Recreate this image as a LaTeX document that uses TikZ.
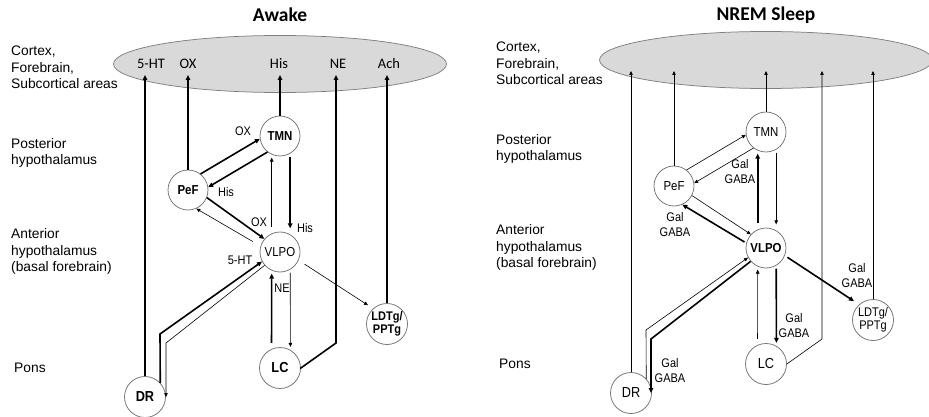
\documentclass[tikz,border=0pt]{standalone}
\usepackage{fontspec}
\setmainfont{Liberation Sans}
\newfontfamily\calibf{Carlito}
\newfontfamily\narrowf[FakeStretch=0.88]{Liberation Sans}
\usetikzlibrary{arrows.meta,shapes.geometric}
\tikzset{
  cnode/.style={circle,draw=black!55,line width=0.75pt,fill=white,minimum size=40pt,inner sep=0pt,text=black},
  nreg/.style={cnode,font=\narrowf\fontsize{13}{14}\selectfont},
  nbold/.style={cnode,font=\narrowf\bfseries\fontsize{13}{14}\selectfont},
  nregL/.style={cnode,minimum size=41pt,font=\narrowf\fontsize{14.5}{16}\selectfont},
  nboldL/.style={cnode,minimum size=41pt,font=\narrowf\bfseries\fontsize{14.5}{16}\selectfont},
  nregS/.style={cnode,minimum size=41pt,align=center,font=\narrowf\fontsize{12.5}{12.5}\selectfont},
  nboldS/.style={cnode,minimum size=41pt,align=center,font=\narrowf\bfseries\fontsize{12.5}{12.5}\selectfont},
  ctx/.style={ellipse,draw=black!50,line width=0.75pt,fill=black!15,minimum width=333pt,minimum height=57pt,inner sep=0pt},
  ctxlbl/.style={font=\calibf\fontsize{14.5}{16}\selectfont,inner sep=0pt},
  ttl/.style={font=\calibf\bfseries\fontsize{19.5}{21}\selectfont,inner sep=0pt},
  side/.style={anchor=west,align=left,inner sep=0pt,font=\fontsize{13.8}{16.5}\selectfont},
  elbl/.style={align=center,inner sep=0pt,font=\narrowf\fontsize{12.5}{15}\selectfont},
  thk/.style={line width=1.6pt,-{Triangle[length=5pt,width=4.5pt]}},
  thn/.style={line width=0.6pt,-{Triangle[length=4pt,width=3.5pt]}},
}
\begin{document}
\begin{tikzpicture}[x=1pt,y=-1pt]
\useasboundingbox (0,0) rectangle (929,417);
% ================= titles
\node[ttl] (Lttl) at (280,15) {Awake};
\node[ttl] (Rttl) at (766,15) {NREM Sleep};
% ================= LEFT PANEL (Awake)
\node[ctx] (Lctx) at (280,64) {};
\node[ctxlbl] (Lc1) at (151,63.5) {5-HT};
\node[ctxlbl] (Lc2) at (188,63.5) {OX};
\node[ctxlbl] (Lc3) at (279,63.5) {His};
\node[ctxlbl] (Lc4) at (338,63.5) {NE};
\node[ctxlbl] (Lc5) at (389,63.5) {Ach};
\node[side] (Ls1) at (11,67.5) {Cortex,\\Forebrain,\\Subcortical areas};
\node[side] (Ls2) at (11,153) {Posterior\\hypothalamus};
\node[side] (Ls3) at (11,251.5) {Anterior\\hypothalamus\\(basal forebrain)};
\node[side] (Ls4) at (14,368) {Pons};
\node[nbold] (LTMN) at (280,136) {TMN};
\node[nbold] (LPeF) at (188,190) {PeF};
\node[nreg] (LVLPO) at (280,252) {VLPO};
\node[nboldL] (LLC) at (280,368) {LC};
\node[nboldL] (LDR) at (145,397) {DR};
\node[nboldS] (LLDT) at (387,324) {LDTg/\\PPTg};
\coordinate (LtHT) at (145,75);
\coordinate (LtOX) at (188,75);
\coordinate (LtHis) at (280,75);
\coordinate (LtNE) at (336,75);
\coordinate (LtAch) at (387,75);
\coordinate (LbNE) at (336,343);
\coordinate (Lb1) at (160,334);
\coordinate (Lb2) at (166,343);
% to cortex
\draw[thk] (LDR.north) -- (LtHT);
\draw[thk] (LPeF.north) -- (LtOX);
\draw[thk] (LTMN.north) -- (LtHis);
\draw[thk,shorten <=-1pt] (LLC.east) -- (LbNE) -- (LtNE);
\draw[thk] (LLDT.north) -- (LtAch);
% PeF - TMN
\draw[thk] (LPeF.52) -- (LTMN.188);
\draw[thk] (LTMN.232) -- (LPeF.8);
% PeF - VLPO
\draw[thk] (LPeF.-22) -- (LVLPO.140);
\draw[thn,shorten <=9pt] (LVLPO.163) -- (LPeF.-66);
% TMN - VLPO
\draw[thn,shorten <=6pt,shorten >=3pt] (LVLPO.114) -- (LTMN.-114);
\draw[thk,shorten <=3pt,shorten >=6pt] (LTMN.-60) -- (LVLPO.60);
% LC - VLPO
\draw[thk,shorten <=6pt,shorten >=3pt] (LLC.114) -- (LVLPO.-114);
\draw[thn,shorten <=3pt,shorten >=3pt] (LVLPO.-60) -- (LLC.60);
% DR - VLPO
\draw[thk] (LDR.43) -- (Lb1) -- (LVLPO.-152);
\draw[thn] (LVLPO.-139) -- (Lb2) -- (Lb2 |- LDR.east);
% VLPO - LDTg
\draw[thn,shorten <=7pt,shorten >=6pt] (LVLPO.-24) -- (LLDT.132);
% edge labels
\node[elbl] (Le1) at (243,131) {OX};
\node[elbl] (Le2) at (226,192) {His};
\node[elbl] (Le3) at (259,222) {OX};
\node[elbl] (Le4) at (305,228) {His};
\node[elbl] (Le5) at (240,260) {5-HT};
\node[elbl] (Le6) at (282,288) {NE};
% ================= RIGHT PANEL (NREM Sleep)
\begin{scope}[shift={(486,-4)}]
\node[ctx] (Rctx) at (280,64) {};
\node[side] (Rs1) at (10,67.5) {Cortex,\\Forebrain,\\Subcortical areas};
\node[side] (Rs2) at (10,153) {Posterior\\hypothalamus};
\node[side] (Rs3) at (10,251.5) {Anterior\\hypothalamus\\(basal forebrain)};
\node[side] (Rs4) at (13,368) {Pons};
\node[nreg] (RTMN) at (280,136) {TMN};
\node[nreg] (RPeF) at (188,190) {PeF};
\node[nbold] (RVLPO) at (280,252) {VLPO};
\node[nregL] (RLC) at (280,368) {LC};
\node[nregL] (RDR) at (145,397) {DR};
\node[nregS] (RLDT) at (387,324) {LDTg/\\PPTg};
\coordinate (RtHT) at (145,75);
\coordinate (RtOX) at (188,75);
\coordinate (RtHis) at (280,75);
\coordinate (RtNE) at (336,75);
\coordinate (RtAch) at (387,75);
\coordinate (RbNE) at (336,343);
\coordinate (Rb1) at (160,334);
\coordinate (Rb2) at (165,343);
% to cortex
\draw[thn] (RDR.north) -- (RtHT);
\draw[thn] (RPeF.north) -- (RtOX);
\draw[thn] (RTMN.north) -- (RtHis);
\draw[thn] (RLC.east) -- (RbNE) -- (RtNE);
\draw[thn] (RLDT.north) -- (RtAch);
% PeF - TMN
\draw[thn] (RPeF.52) -- (RTMN.188);
\draw[thn] (RTMN.232) -- (RPeF.8);
% PeF - VLPO
\draw[thn] (RPeF.-28) -- (RVLPO.138);
\draw[thk,shorten <=2pt] (RVLPO.166) -- (RPeF.-66);
% TMN - VLPO
\draw[thk,shorten <=6pt,shorten >=3pt] (RVLPO.114) -- (RTMN.-114);
\draw[thn,shorten <=3pt,shorten >=6pt] (RTMN.-60) -- (RVLPO.60);
% LC - VLPO
\draw[thn,shorten <=6pt,shorten >=3pt] (RLC.114) -- (RVLPO.-114);
\draw[thk,shorten <=3pt,shorten >=3pt] (RVLPO.-60) -- (RLC.60);
% DR - VLPO
\draw[thn] (RDR.43) -- (Rb1) -- (RVLPO.-152);
\draw[thk] (RVLPO.-139) -- (Rb2) -- (Rb2 |- RDR.east);
% VLPO - LDTg
\draw[thk,shorten <=3pt,shorten >=6pt] (RVLPO.-22) -- (RLDT.132);
% edge labels
\node[elbl] (Re1) at (254,176) {Gal\\GABA};
\node[elbl] (Re2) at (189,229) {Gal\\GABA};
\node[elbl] (Re3) at (308,330) {Gal\\GABA};
\node[elbl] (Re4) at (371,280) {Gal\\GABA};
\node[elbl] (Re5) at (184,375) {Gal\\GABA};
\end{scope}
\end{tikzpicture}
\end{document}
